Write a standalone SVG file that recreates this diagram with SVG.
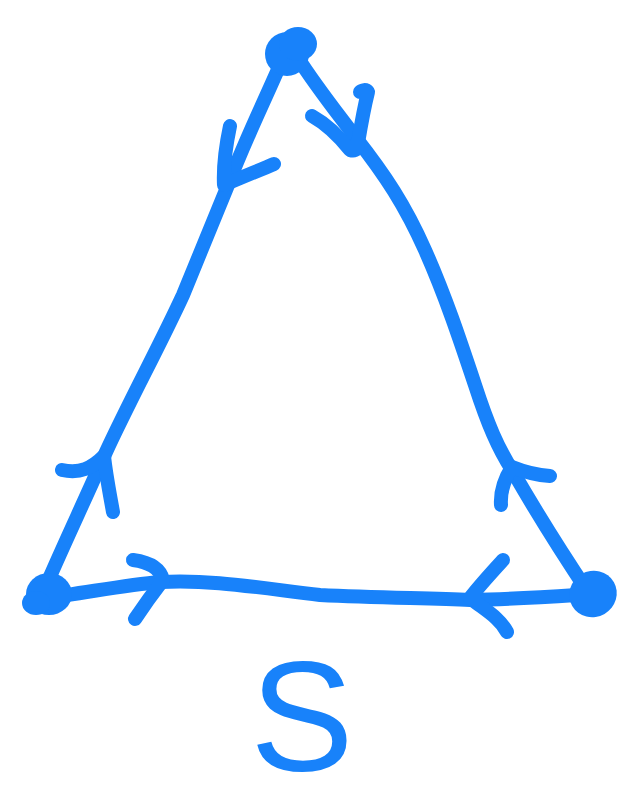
<svg xmlns="http://www.w3.org/2000/svg" width="626" height="804" viewBox="0 0 626 804">
<style>
.s{fill:none;stroke:#1882fa;stroke-width:14;stroke-linecap:round;stroke-linejoin:round}
.d{fill:#1882fa}
</style>
<rect width="626" height="804" fill="#fff"/>
<g id="connectors">
<path class="s" d="M283,58 C265,100 245,140 228,185 C212,225 195,265 183,295 C160,345 130,400 106,452 C85,500 62,548 42,595"/>
<path class="s" d="M298,58 C315,85 335,110 356,138 C385,175 405,205 425,250 C445,295 460,340 475,385 C488,425 498,448 512,470 C535,510 560,550 588,592"/>
<path class="s" d="M45,598 C85,593 125,585 160,582 C210,579 260,588 320,595 C380,598 430,598 470,600 C520,599 560,596 592,594"/>
<path class="s" d="M230,126 C226,145 223,165 224,185 C240,178 260,170 274,164"/>
<path class="s" d="M312,116 C330,126 342,140 350,150 C356,152 358,148 358,143 C361,125 364,108 368,92 C366,89 362,90 360,92"/>
<path class="s" d="M62,470 C80,474 92,468 104,456 C106,475 110,495 113,512"/>
<path class="s" d="M133,560 C148,562 160,567 163,580 C153,593 143,607 135,619"/>
<path class="s" d="M503,560 C492,572 480,585 470,598 C485,610 500,618 507,632"/>
<path class="s" d="M550,476 C535,475 522,471 512,467 C505,478 500,490 501,505"/>
</g>
<g id="vertex-top">
<ellipse class="d" cx="287" cy="54" rx="22" ry="22"/>
<ellipse class="d" cx="298" cy="44" rx="19" ry="17"/>
</g>
<g id="vertex-left">
<ellipse class="d" cx="49" cy="594" rx="23" ry="21"/>
<ellipse class="d" cx="36" cy="603" rx="14" ry="12"/>
</g>
<g id="vertex-right">
<ellipse class="d" cx="593" cy="594" rx="24" ry="23" transform="rotate(-30 593 594)"/>
</g>
<g id="label">
<text x="302" y="770" text-anchor="middle" font-family="Liberation Sans, sans-serif" font-size="155" fill="#1882fa">S</text>
</g>
</svg>
